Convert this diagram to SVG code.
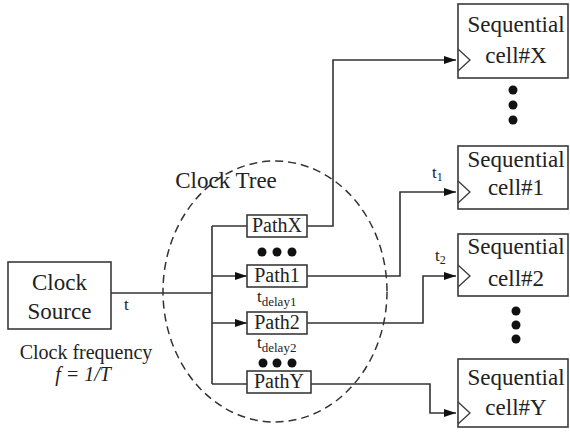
<svg xmlns="http://www.w3.org/2000/svg" width="570" height="433" viewBox="0 0 570 433">
  <defs>
    <style>
      .box { fill: #fff; stroke: #3a3a3a; stroke-width: 1.6; }
      .wire { fill: none; stroke: #333; stroke-width: 1.6; }
      .clk { fill: none; stroke: #3a3a3a; stroke-width: 1.3; }
      .dot { fill: #111; }
    </style>
    <marker id="arr" viewBox="0 0 12 8" refX="12" refY="4" markerWidth="12" markerHeight="8" markerUnits="userSpaceOnUse" orient="auto">
      <path d="M0,0 L12,4 L0,8 Z" fill="#111"/>
    </marker>
  </defs>

  <rect width="570" height="433" fill="#fff"/>

  <g font-family="'Liberation Serif', 'DejaVu Serif', 'Times New Roman', serif" fill="#222">

  <!-- clock tree boundary -->
  <ellipse cx="275" cy="291.5" rx="112" ry="130.5" fill="none" stroke="#333" stroke-width="1.5" stroke-dasharray="8,5"/>
  <text x="226" y="188" font-size="23" text-anchor="middle">Clock Tree</text>

  <!-- connectors -->
  <g id="connectors">
    <path class="wire" d="M111,293 H212"/>
    <path class="wire" d="M212,226 V384"/>
    <path class="wire" d="M212,226 H247"/>
    <path class="wire" d="M212,276 H247" marker-end="url(#arr)"/>
    <path class="wire" d="M212,323 H247" marker-end="url(#arr)"/>
    <path class="wire" d="M212,384 H247"/>
    <path class="wire" d="M307,226 H333 V60 H456" marker-end="url(#arr)"/>
    <path class="wire" d="M307,276 H400 V192 H456" marker-end="url(#arr)"/>
    <path class="wire" d="M307,323 H423 V276 H456" marker-end="url(#arr)"/>
    <path class="wire" d="M311,384 H430 V413 H456" marker-end="url(#arr)"/>
  </g>

  <!-- connector labels -->
  <text x="124" y="310" font-size="17">t</text>
  <text x="432" y="178" font-size="17">t<tspan font-size="12" dy="3">1</tspan></text>
  <text x="435" y="261" font-size="17">t<tspan font-size="12" dy="3">2</tspan></text>
  <text x="257" y="302" font-size="17">t<tspan font-size="13" dy="4">delay1</tspan></text>
  <text x="257" y="348" font-size="17">t<tspan font-size="13" dy="4">delay2</tspan></text>

  <!-- clock source -->
  <g id="clock-source">
    <rect class="box" x="8" y="262" width="103" height="67"/>
    <text x="59.5" y="290" font-size="23" text-anchor="middle">Clock</text>
    <text x="59.5" y="319" font-size="23" text-anchor="middle">Source</text>
    <text x="86" y="359" font-size="20" text-anchor="middle">Clock frequency</text>
    <text x="83" y="381" font-size="20" text-anchor="middle" font-style="italic">f = 1/T</text>
  </g>

  <!-- delay paths -->
  <g id="path-x">
    <rect class="box" x="247" y="215" width="60" height="22"/>
    <text x="277" y="232" font-size="20" text-anchor="middle">PathX</text>
  </g>
  <g id="dots-upper">
    <circle class="dot" cx="262" cy="252" r="4.5"/>
    <circle class="dot" cx="277" cy="252" r="4.5"/>
    <circle class="dot" cx="292" cy="252" r="4.5"/>
  </g>
  <g id="path-1">
    <rect class="box" x="247" y="265" width="60" height="22"/>
    <text x="277" y="282" font-size="20" text-anchor="middle">Path1</text>
  </g>
  <g id="path-2">
    <rect class="box" x="247" y="312" width="60" height="22"/>
    <text x="277" y="329" font-size="20" text-anchor="middle">Path2</text>
  </g>
  <g id="dots-lower">
    <circle class="dot" cx="263" cy="363" r="4.5"/>
    <circle class="dot" cx="277" cy="363" r="4.5"/>
    <circle class="dot" cx="292" cy="363" r="4.5"/>
  </g>
  <g id="path-y">
    <rect class="box" x="247" y="371" width="64" height="22"/>
    <text x="279" y="388" font-size="20" text-anchor="middle">PathY</text>
  </g>

  <!-- sequential cells -->
  <g id="cell-x">
    <rect class="box" x="458" y="4" width="110" height="74"/>
    <path class="clk" d="M458,49 L470,60 L458,71"/>
    <text x="516" y="32" font-size="23" text-anchor="middle">Sequential</text>
    <text x="516" y="63" font-size="23" text-anchor="middle">cell#X</text>
  </g>
  <g id="dots-cells-upper">
    <circle class="dot" cx="513" cy="90" r="4.5"/>
    <circle class="dot" cx="513" cy="105" r="4.5"/>
    <circle class="dot" cx="513" cy="120" r="4.5"/>
  </g>
  <g id="cell-1">
    <rect class="box" x="458" y="146" width="110" height="63"/>
    <path class="clk" d="M458,181 L470,192 L458,203"/>
    <text x="516" y="167" font-size="23" text-anchor="middle">Sequential</text>
    <text x="516" y="195" font-size="23" text-anchor="middle">cell#1</text>
  </g>
  <g id="cell-2">
    <rect class="box" x="458" y="234" width="110" height="62"/>
    <path class="clk" d="M458,265 L470,276 L458,287"/>
    <text x="516" y="254" font-size="23" text-anchor="middle">Sequential</text>
    <text x="516" y="286" font-size="23" text-anchor="middle">cell#2</text>
  </g>
  <g id="dots-cells-lower">
    <circle class="dot" cx="516" cy="311" r="4.5"/>
    <circle class="dot" cx="516" cy="325" r="4.5"/>
    <circle class="dot" cx="516" cy="339" r="4.5"/>
  </g>
  <g id="cell-y">
    <rect class="box" x="458" y="359" width="110" height="68"/>
    <path class="clk" d="M458,402 L470,413 L458,424"/>
    <text x="516" y="385" font-size="23" text-anchor="middle">Sequential</text>
    <text x="516" y="415" font-size="23" text-anchor="middle">cell#Y</text>
  </g>

  </g>
</svg>
